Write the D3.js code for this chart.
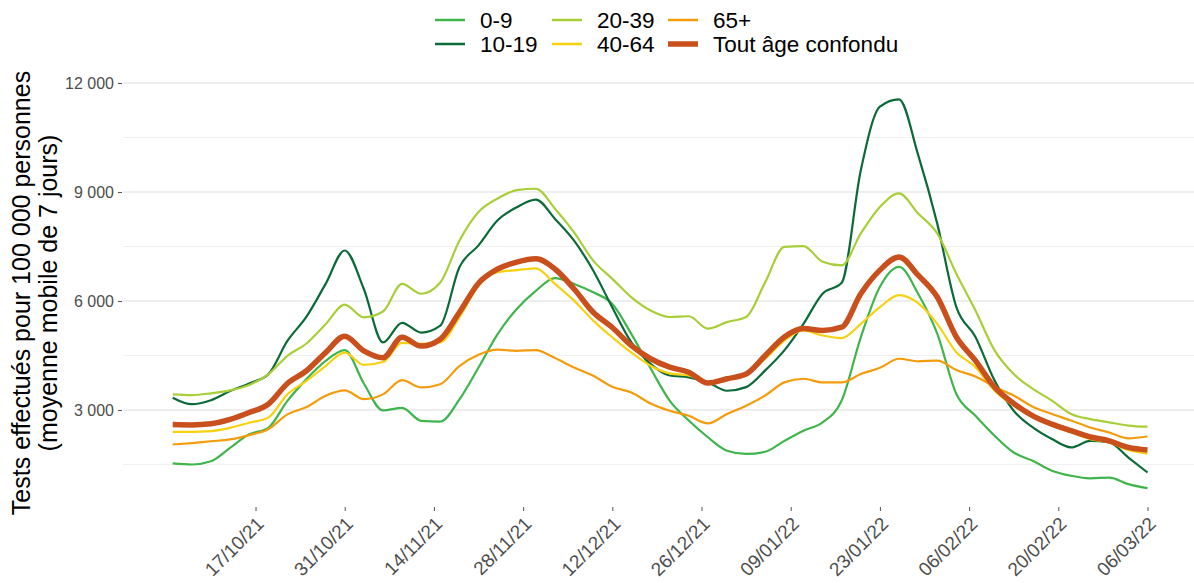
<!DOCTYPE html>
<html>
<head>
<meta charset="utf-8">
<script src="https://cdn.jsdelivr.net/npm/d3@7"></script>
<style>
body { margin: 0; background: #fff; }
svg { font-family: "Liberation Sans", Arial, sans-serif; }
</style>
</head>
<body>
<script>
// dates read every 3 days (7-day rolling average per 100 000)
var dates = [
  "2021-10-04","2021-10-07","2021-10-10","2021-10-13","2021-10-16","2021-10-19","2021-10-22","2021-10-25","2021-10-28","2021-10-31",
  "2021-11-03","2021-11-06","2021-11-09","2021-11-12","2021-11-15","2021-11-18","2021-11-21","2021-11-24","2021-11-27","2021-11-30",
  "2021-12-03","2021-12-06","2021-12-09","2021-12-12","2021-12-15","2021-12-18","2021-12-21","2021-12-24","2021-12-27","2021-12-30",
  "2022-01-02","2022-01-05","2022-01-08","2022-01-11","2022-01-14","2022-01-17","2022-01-20","2022-01-23","2022-01-26","2022-01-29",
  "2022-02-01","2022-02-04","2022-02-07","2022-02-10","2022-02-13","2022-02-16","2022-02-19","2022-02-22","2022-02-25","2022-02-28",
  "2022-03-03","2022-03-06"
];

var age_0_9 = [1530,1500,1590,1960,2330,2510,3250,3850,4350,4650,
  3730,2990,3060,2700,2680,3290,4170,5090,5780,6280,
  6630,6470,6240,5920,5090,4150,3260,2710,2250,1880,
  1790,1850,2150,2430,2660,3260,5000,6390,6940,6200,
  5100,3440,2840,2290,1830,1600,1330,1190,1120,1140,
  960,850];
var age_10_19 = [3340,3160,3270,3520,3730,3980,4900,5570,6470,7390,
  6330,4860,5400,5130,5320,6930,7530,8220,8580,8790,
  8260,7660,6840,5820,4860,4270,3950,3900,3760,3530,
  3630,4090,4640,5370,6200,6500,9600,11350,11550,10020,
  8130,5830,5010,3810,2980,2520,2200,1970,2150,2110,
  1690,1280];
var age_20_39 = [3430,3410,3460,3540,3690,3980,4490,4830,5360,5900,
  5550,5710,6470,6200,6510,7660,8450,8820,9050,9090,
  8540,7890,7110,6610,6100,5740,5560,5580,5240,5420,
  5560,6520,7490,7510,7080,6980,7860,8590,8960,8410,
  7860,6750,5740,4640,3990,3580,3260,2890,2750,2660,
  2570,2540];
var age_40_64 = [2400,2400,2420,2510,2650,2790,3430,3800,4210,4580,
  4240,4320,4850,4820,4860,5550,6420,6790,6850,6900,
  6470,6010,5460,5000,4580,4220,4010,3950,3760,3830,
  3970,4410,4910,5190,5050,4980,5370,5830,6160,5940,
  5370,4590,4180,3530,3120,2800,2570,2380,2200,2110,
  1900,1800];
var age_65 = [2050,2090,2140,2190,2310,2470,2880,3080,3390,3540,
  3300,3430,3820,3620,3710,4210,4520,4660,4630,4650,
  4430,4170,3940,3640,3480,3180,2980,2840,2630,2890,
  3120,3400,3760,3860,3760,3760,3990,4160,4410,4340,
  4360,4100,3920,3640,3400,3090,2890,2710,2520,2380,
  2220,2270];
var age_all = [2600,2590,2620,2740,2930,3160,3730,4080,4580,5030,
  4630,4440,5000,4760,4950,5690,6490,6880,7070,7160,
  6880,6330,5690,5270,4770,4410,4180,4040,3740,3860,
  3990,4500,5010,5240,5190,5280,6200,6850,7210,6710,
  6110,5010,4360,3630,3180,2840,2610,2430,2260,2150,
  1970,1900];

var groups = ["0-9", "10-19", "20-39", "40-64", "65+", "Tout âge confondu"];
var colors = ["#3fb54b", "#0b6b38", "#a9cf38", "#f7d10f", "#f59b0c", "#c9501c"];

var yTicks = [3000, 6000, 9000, 12000];
var yMinor = [1500, 4500, 7500, 10500];
var xTicks = ["2021-10-17","2021-10-31","2021-11-14","2021-11-28","2021-12-12","2021-12-26",
  "2022-01-09","2022-01-23","2022-02-06","2022-02-20","2022-03-06"];

var parse = d3.timeParse("%Y-%m-%d");
var seriesVals = [age_0_9, age_10_19, age_20_39, age_40_64, age_65, age_all];
var series = groups.map(function(g, i) {
  return {
    key: g,
    color: colors[i],
    values: dates.map(function(d, j) { return {date: parse(d), value: seriesVals[i][j]}; })
  };
});

var w = 1194, h = 583;
var panel = {left: 123, right: 1194, top: 78, bottom: 509};

var x = d3.scaleTime()
  .domain(d3.extent(dates, function(d) { return parse(d); }))
  .range([172.7, 1147.5]);

var y = d3.scaleLinear()
  .domain([3000, 12000])
  .range([410, 83]);

var svg = d3.select("body").append("svg")
  .attr("width", w)
  .attr("height", h);

// grid
svg.selectAll(".minor")
  .data(yMinor)
  .enter().append("line")
  .attr("x1", panel.left).attr("x2", panel.right)
  .attr("y1", function(d) { return y(d); })
  .attr("y2", function(d) { return y(d); })
  .attr("stroke", "#f0f0f0")
  .attr("stroke-width", 1);

svg.selectAll(".major")
  .data(yTicks)
  .enter().append("line")
  .attr("x1", panel.left).attr("x2", panel.right)
  .attr("y1", function(d) { return y(d); })
  .attr("y2", function(d) { return y(d); })
  .attr("stroke", "#e9e9e9")
  .attr("stroke-width", 1.3);

// axes
var fmt = function(d) { return d3.format(",")(d).replace(",", " "); };

var yAxis = svg.append("g")
  .attr("transform", "translate(122,0)")
  .call(d3.axisLeft(y).tickValues(yTicks).tickSize(4).tickPadding(4).tickFormat(fmt));
yAxis.select(".domain").remove();
yAxis.selectAll("line").attr("stroke", "#555");
yAxis.selectAll("text")
  .attr("fill", "#4d4d4d")
  .style("font-size", "16px");

var xAxis = svg.append("g")
  .attr("transform", "translate(0,507)")
  .call(d3.axisBottom(x)
    .tickValues(xTicks.map(parse))
    .tickSize(4)
    .tickFormat(d3.timeFormat("%d/%m/%y")));
xAxis.select(".domain").remove();
xAxis.selectAll("line").attr("stroke", "#555");
xAxis.selectAll("text")
  .attr("x", 0).attr("y", 0).attr("dy", null)
  .attr("text-anchor", "end")
  .attr("transform", "translate(9,18) rotate(-45)")
  .attr("fill", "#4d4d4d")
  .style("font-size", "19px");

// y title
var yt = svg.append("text")
  .attr("transform", "translate(0,293) rotate(-90)")
  .attr("text-anchor", "middle")
  .style("font-size", "25px")
  .attr("fill", "#000");
yt.append("tspan").attr("x", 0).attr("y", 30).text("Tests effectués pour 100 000 personnes");
yt.append("tspan").attr("x", 0).attr("y", 57).text("(moyenne mobile de 7 jours)");

// lines
var line = d3.line()
  .x(function(d) { return x(d.date); })
  .y(function(d) { return y(d.value); })
  .curve(d3.curveMonotoneX);

svg.selectAll(".serie")
  .data(series)
  .enter().append("path")
  .attr("class", "serie")
  .attr("fill", "none")
  .attr("stroke", function(d) { return d.color; })
  .attr("stroke-width", function(d, i) { return i == 5 ? 5.5 : 2.2; })
  .attr("stroke-linejoin", "round")
  .attr("d", function(d) { return line(d.values); });

// legend
var legX = [435, 552, 668];
var legY = [20, 44];
var leg = svg.selectAll(".leg")
  .data(series)
  .enter().append("g")
  .attr("class", "leg")
  .attr("transform", function(d, i) {
    return "translate(" + legX[Math.floor(i / 2)] + "," + legY[i % 2] + ")";
  });
leg.append("line")
  .attr("x1", 0).attr("x2", 30)
  .attr("stroke", function(d) { return d.color; })
  .attr("stroke-width", function(d, i) { return i == 5 ? 5.5 : 2.5; });
leg.append("text")
  .attr("x", 45)
  .attr("dy", "0.36em")
  .style("font-size", "22.5px")
  .text(function(d) { return d.key; });
</script>
</body>
</html>
